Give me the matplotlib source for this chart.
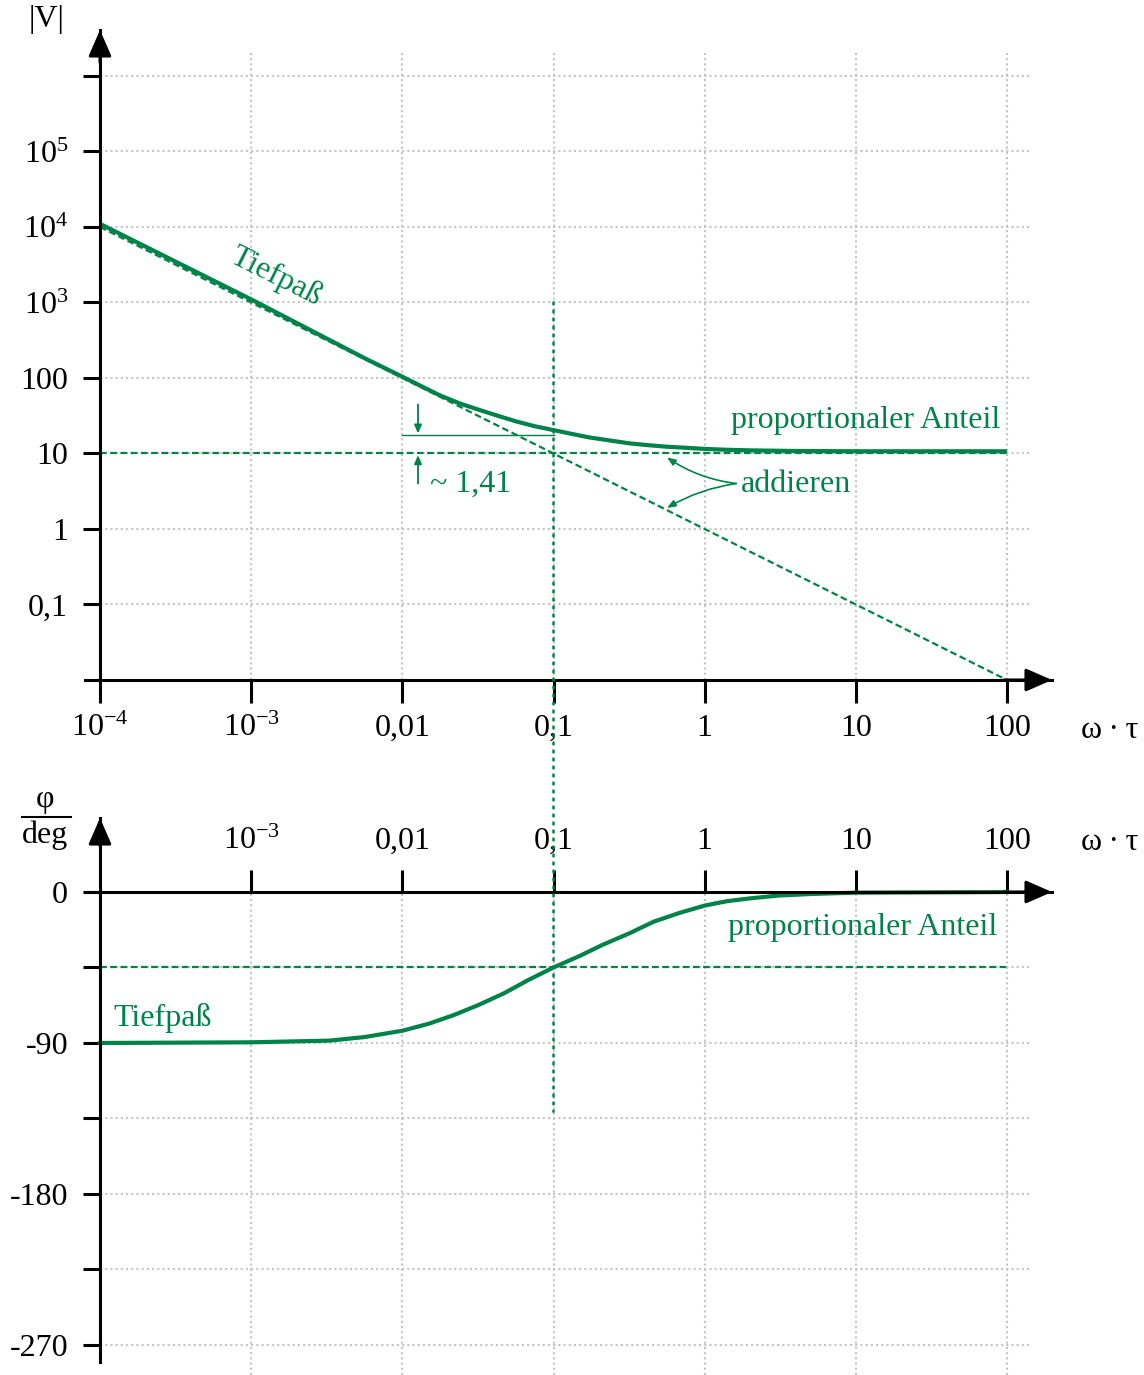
import numpy as np
import matplotlib.pyplot as plt
from matplotlib.patches import ConnectionPatch
from matplotlib.ticker import FixedLocator, FixedFormatter, NullLocator

plt.rcParams['font.family'] = ['Liberation Serif', 'DejaVu Serif']
plt.rcParams['mathtext.fontset'] = 'custom'
plt.rcParams['mathtext.rm'] = 'Liberation Serif'
plt.rcParams['mathtext.it'] = 'Liberation Serif:italic'
plt.rcParams['mathtext.default'] = 'rm'

# Achsen / Ticks
decades = [1e-4, 1e-3, 0.01, 0.1, 1, 10, 100]
decade_labels = ['10$^{-4}$', '10$^{-3}$', '0,01', '0,1', '1', '10', '100']
mag_ticks = [0.1, 1, 10, 100, 1e3, 1e4, 1e5, 1e6]
mag_labels = ['0,1', '1', '10', '100', '10$^{3}$', '10$^{4}$', '10$^{5}$', '']
phase_ticks = [0, -45, -90, -135, -180, -225, -270]
phase_labels = ['0', '', '-90', '', '-180', '', '-270']

# Betrag |V|
x_mag = [1e-4, 1e-3, 0.0056, 0.0075, 0.01, 0.013, 0.018, 0.024, 0.032, 0.043, 0.057,
         0.075, 0.1, 0.13, 0.17, 0.24, 0.32, 0.42, 0.56, 0.75, 1, 1.4, 2, 4, 10, 100]
v_mag = [11000, 1100, 184, 138, 104, 80, 58, 46, 38, 31.5, 26.5,
         23, 20.4, 18.3, 16.4, 14.8, 13.6, 12.9, 12.3, 11.9, 11.5, 11.2, 11.0, 10.8, 10.7, 10.7]

# Asymptoten
asym_x = [1e-4, 100]
asym_v = [1e4, 0.01]
prop_x = [1e-4, 100]
prop_v = [10, 10]

# Phase
x_phase = [1e-4, 1e-3, 3.3e-3, 0.0056, 0.01, 0.015, 0.022, 0.032, 0.047, 0.068, 0.1,
           0.15, 0.21, 0.32, 0.46, 0.68, 1, 1.4, 2, 3, 5, 10, 100]
phi = [-90, -89.6, -88.6, -86.5, -82.7, -78.5, -73.3, -67.3, -60.4, -52.5, -45,
       -38, -31.6, -24.5, -17.7, -12.5, -8.1, -5.5, -3.8, -2.2, -1.2, -0.4, 0]
phase_ref_x = [1e-4, 100]
phase_ref = [-45, -45]

x_corner = 0.1
v_141 = 17.5

GREEN = '#00834a'
GRID = '#c4c4c4'
W, H = 1144, 1375
FS = 23
AXLABEL = 'ω\u2009·\u2009τ'

fig = plt.figure(figsize=(W / 100, H / 100), dpi=100)


def px_axes(left, top, right, bottom):
    return fig.add_axes([left / W, 1 - bottom / H, (right - left) / W, (bottom - top) / H])


def arrow_head(ax, xy, xytext, coords):
    ax.annotate('', xy=xy, xycoords=coords, xytext=xytext, textcoords=coords,
                arrowprops=dict(arrowstyle='-|>,head_length=16,head_width=7',
                                mutation_scale=1, color='k', lw=2.2,
                                shrinkA=0, shrinkB=0), annotation_clip=False)


# ---------------- Betragsgang ----------------
ax1 = px_axes(85, 30, 1052, 680)
ax1.set_xscale('log')
ax1.set_yscale('log')
ax1.set_xlim(10 ** -4.0992, 10 ** 2.2976)
ax1.set_ylim(0.01, 10 ** 6.609)
for s in ['top', 'right']:
    ax1.spines[s].set_visible(False)
ax1.spines['left'].set_position(('data', 1e-4))
for s in ['left', 'bottom']:
    ax1.spines[s].set_linewidth(2.2)

ax1.xaxis.set_major_locator(FixedLocator(decades))
ax1.xaxis.set_major_formatter(FixedFormatter(decade_labels))
ax1.xaxis.set_minor_locator(NullLocator())
ax1.yaxis.set_major_locator(FixedLocator(mag_ticks))
ax1.yaxis.set_major_formatter(FixedFormatter(mag_labels))
ax1.yaxis.set_minor_locator(NullLocator())
ax1.tick_params(axis='x', direction='out', length=16.5, width=2.2, pad=8, labelsize=FS)
ax1.tick_params(axis='y', direction='out', length=12, width=2.2, pad=11, labelsize=FS)

ax1.vlines(decades[1:], 0.01, 10 ** 6.344, colors=GRID, linestyles=(0, (1, 1.5)), lw=1.5, zorder=0)
ax1.hlines(mag_ticks, 1e-4, 10 ** 2.152, colors=GRID, linestyles=(0, (1, 1.5)), lw=1.5, zorder=0)

ax1.plot(asym_x, asym_v, color=GREEN, lw=1.6, ls=(0, (3, 1.6)), clip_on=False)
ax1.plot(prop_x, prop_v, color=GREEN, lw=1.6, ls=(0, (3, 1.6)))
ax1.plot(x_mag, v_mag, color=GREEN, lw=3.0, solid_capstyle='butt')

arrow_head(ax1, (1, 0), (0.95, 0), 'axes fraction')
arrow_head(ax1, (1e-4, 1), (1e-4, 0.95), ('data', 'axes fraction'))

ax1.text(0.00146, 2208, 'Tiefpaß', color=GREEN, fontsize=FS, rotation=-26.5,
         rotation_mode='anchor', ha='center', va='center')
ax1.text(90, 27.5, 'proportionaler Anteil', color=GREEN, fontsize=FS, ha='right', va='center')

# 1,41 Markierung
ax1.plot([0.01, x_corner], [v_141, v_141], color=GREEN, lw=1.0)
small = dict(arrowstyle='-|>,head_length=5,head_width=2.2', mutation_scale=1,
             color=GREEN, lw=1.3, shrinkA=0, shrinkB=0)
ax1.annotate('', xy=(0.0127, v_141 * 1.05), xytext=(0.0127, 44.6), arrowprops=small)
ax1.annotate('', xy=(0.0127, 10 * 0.95), xytext=(0.0127, 4.0), arrowprops=small)
ax1.text(0.0152, 3.9, '~ 1,41', color=GREEN, fontsize=FS, ha='left', va='center')

# addieren
ax1.text(1.74, 3.9, 'addieren', color=GREEN, fontsize=FS, ha='left', va='center')
curved = dict(arrowstyle='-|>,head_length=5,head_width=2', mutation_scale=1,
              color=GREEN, lw=1.2, shrinkA=0, shrinkB=0)
ax1.annotate('', xy=(0.564, 8.85), xytext=(1.62, 4.0),
             arrowprops=dict(curved, connectionstyle='arc3,rad=-0.12'))
ax1.annotate('', xy=(0.564, 1.9), xytext=(1.62, 4.0),
             arrowprops=dict(curved, connectionstyle='arc3,rad=0.1'))

fig.text(47 / W, 1 - 20 / H, '|V|', fontsize=FS, ha='center', va='center')
fig.text(1110 / W, 1 - 730 / H, AXLABEL, fontsize=FS, ha='center', va='center')

# ---------------- Phasengang ----------------
ax2 = px_axes(85, 818, 1052, 1375)
ax2.set_xscale('log')
ax2.set_xlim(10 ** -4.0992, 10 ** 2.2976)
ax2.set_ylim(-287.9, 44.1)
for s in ['bottom', 'right']:
    ax2.spines[s].set_visible(False)
ax2.spines['top'].set_position(('data', 0))
ax2.spines['left'].set_position(('data', 1e-4))
ax2.spines['left'].set_bounds(-280.1, 44.1)
for s in ['left', 'top']:
    ax2.spines[s].set_linewidth(2.2)

ax2.xaxis.tick_top()
ax2.xaxis.set_major_locator(FixedLocator(decades[1:]))
ax2.xaxis.set_major_formatter(FixedFormatter(decade_labels[1:]))
ax2.xaxis.set_minor_locator(NullLocator())
ax2.yaxis.set_major_locator(FixedLocator(phase_ticks))
ax2.yaxis.set_major_formatter(FixedFormatter(phase_labels))
ax2.tick_params(axis='x', direction='out', length=16, width=2.2, pad=10, labelsize=FS)
ax2.tick_params(axis='y', direction='out', length=12, width=2.2, pad=11, labelsize=FS)

ax2.vlines(decades[1:], -287.9, 0, colors=GRID, linestyles=(0, (1, 1.5)), lw=1.5, zorder=0)
ax2.hlines(phase_ticks[1:], 1e-4, 10 ** 2.152, colors=GRID, linestyles=(0, (1, 1.5)), lw=1.5, zorder=0)

ax2.plot(phase_ref_x, phase_ref, color=GREEN, lw=1.6, ls=(0, (3, 1.6)))
ax2.plot(x_phase, phi, color=GREEN, lw=3.0)

arrow_head(ax2, (1, 0), (0.95, 0), ('axes fraction', 'data'))
arrow_head(ax2, (1e-4, 1), (1e-4, 0.95), ('data', 'axes fraction'))

ax2.text(86, -20.9, 'proportionaler Anteil', color=GREEN, fontsize=FS, ha='right', va='center')
ax2.text(1.22e-4, -75.1, 'Tiefpaß', color=GREEN, fontsize=FS, ha='left', va='center')

fig.text(1110 / W, 1 - 842 / H, AXLABEL, fontsize=FS, ha='center', va='center')
fig.text(45 / W, 1 - 799 / H, 'φ', fontsize=FS, ha='center', va='center')
fig.text(45 / W, 1 - 835 / H, 'deg', fontsize=FS, ha='center', va='center')
fig.add_artist(plt.Line2D([22 / W, 71 / W], [1 - 817 / H, 1 - 817 / H], color='k', lw=1.5))

# senkrechte Linie bei der Eckfrequenz durch beide Diagramme
con = ConnectionPatch(xyA=(x_corner, 1e3), coordsA=ax1.transData,
                      xyB=(x_corner, -131), coordsB=ax2.transData,
                      color=GREEN, lw=1.8, linestyle=(0, (0.8, 2.4)))
fig.add_artist(con)

fig.savefig('out.png', dpi=100)
